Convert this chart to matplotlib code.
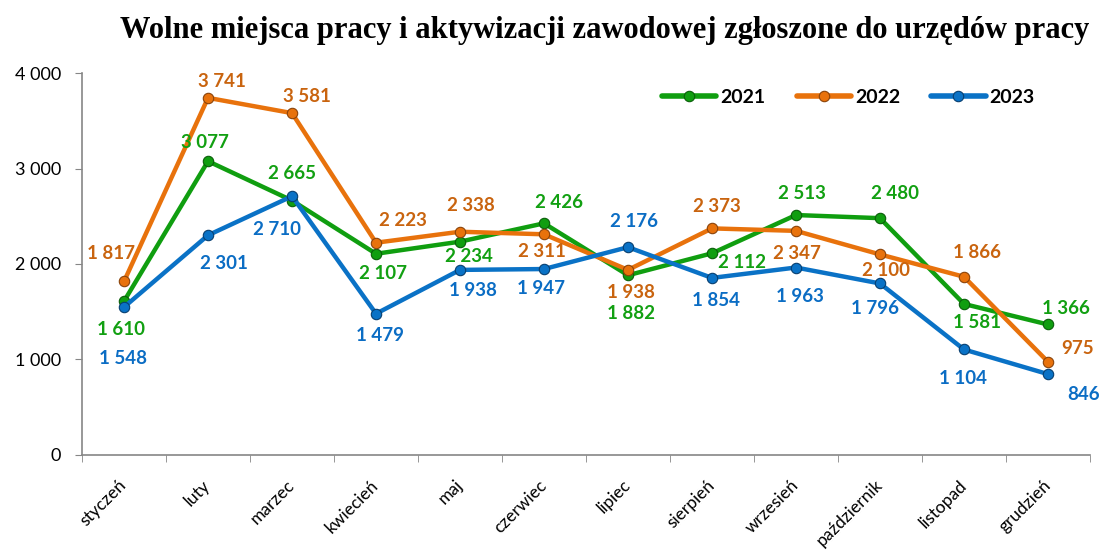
import matplotlib
matplotlib.use('Agg')
import matplotlib.pyplot as plt
from matplotlib.ticker import FuncFormatter, FixedLocator

miesiace = ['styczeń', 'luty', 'marzec', 'kwiecień', 'maj', 'czerwiec',
            'lipiec', 'sierpień', 'wrzesień', 'październik', 'listopad', 'grudzień']
lata = ['2021', '2022', '2023']
w2021 = [1610, 3077, 2665, 2107, 2234, 2426, 1882, 2112, 2513, 2480, 1581, 1366]
w2022 = [1817, 3741, 3581, 2223, 2338, 2311, 1938, 2373, 2347, 2100, 1866, 975]
w2023 = [1548, 2301, 2710, 1479, 1938, 1947, 2176, 1854, 1963, 1796, 1104, 846]

# przesuniecia etykiet w pikselach (dx, dy)
off2021 = [(-3, -28), (-3, 19), (0, 27), (7, -20), (9, -15), (15, 21),
           (3, -38), (30, -9), (6, 22), (15, 25), (13, -19), (18, 16)]
off2022 = [(-13, 28), (14, 16), (15, 17), (27, 22), (11, 26), (-2, -17),
           (3, -23), (5, 22), (1, -23), (6, -16), (13, 24), (30, 13)]
off2023 = [(-1, -51), (16, -28), (-15, -33), (4, -22), (13, -21), (-3, -19),
           (6, 26), (4, -23), (4, -29), (-5, -25), (-1, -29), (36, -20)]

kolory = ['#109E10', '#E8720C', '#0A72C6']
kolory_tekst = ['#12A012', '#C9640F', '#0B6DC4']
ciemne = ['#0A5E0A', '#8A430A', '#073F70']

fig = plt.figure(figsize=(11.04, 5.54), dpi=100)
ax = fig.add_axes([0.0743, 0.179, 0.913, 0.689])

x = range(len(miesiace))
for seria, off, kol, kt, ck, rok in zip([w2021, w2022, w2023], [off2021, off2022, off2023],
                                         kolory, kolory_tekst, ciemne, lata):
    ax.plot(x, seria, color=kol, lw=3.2, marker='o', ms=7.5,
            markerfacecolor=kol, markeredgecolor=ck, markeredgewidth=0.8,
            label=rok, solid_capstyle='round', zorder=3)
    for i, v in enumerate(seria):
        etykieta = f'{v:,}'.replace(',', ' ')
        ax.annotate(etykieta, (i, v), xytext=off[i], textcoords='offset pixels',
                    ha='center', va='center', color=kt, fontsize=13.5,
                    fontweight='bold', family='Lato', zorder=4)

ax.set_xlim(-0.5, 11.5)
ax.set_ylim(0, 4000)
ax.set_yticks([0, 1000, 2000, 3000, 4000])
ax.yaxis.set_major_formatter(FuncFormatter(lambda v, p: f'{int(v):,}'.replace(',', ' ')))
ax.set_xticks(list(x))
ax.set_xticklabels(miesiace, rotation=45, ha='right', va='center',
                   rotation_mode='anchor', family='Lato', fontsize=12.5)
ax.xaxis.set_minor_locator(FixedLocator([i - 0.5 for i in range(13)]))
ax.tick_params(axis='x', which='major', length=0, pad=20)
ax.tick_params(axis='x', which='minor', length=5, color='#868686', direction='out')
ax.tick_params(axis='y', length=5, color='#868686', direction='out', labelsize=13, pad=10)
for t in ax.get_yticklabels():
    t.set_family('Lato')
for s in ['top', 'right']:
    ax.spines[s].set_visible(False)
for s in ['left', 'bottom']:
    ax.spines[s].set_color('#868686')
    ax.spines[s].set_linewidth(1.2)

leg = ax.legend(loc='center right', bbox_to_anchor=(0.945, 0.937), ncol=3, frameon=False,
                prop={'family': 'Lato', 'weight': 'bold', 'size': 14},
                handlelength=2.8, columnspacing=1.6, handletextpad=0.2,
                borderpad=0, borderaxespad=0)
for h in leg.get_lines():
    h.set_linewidth(4)

fig.text(0.548, 0.945, 'Wolne miejsca pracy i aktywizacji zawodowej zgłoszone do urzędów pracy',
         ha='center', va='center', family='Liberation Serif', fontweight='bold', fontsize=22)

fig.savefig('out.png', dpi=100)
